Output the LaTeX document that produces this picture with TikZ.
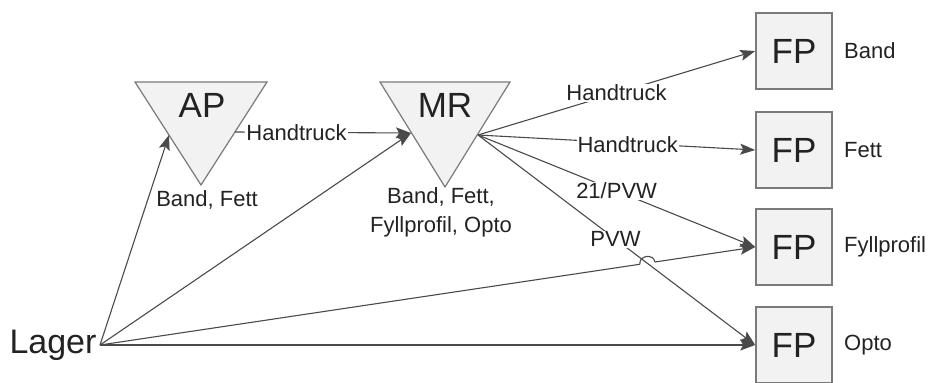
\documentclass[tikz,border=0pt]{standalone}
\usepackage{fontspec}
\setmainfont{Liberation Sans}
\usetikzlibrary{arrows.meta,calc}
\definecolor{linec}{HTML}{4A4A4A}
\definecolor{shapefill}{HTML}{F2F2F2}
\definecolor{shapeedge}{HTML}{7A7A7A}
\definecolor{textc}{HTML}{222222}
\tikzset{
  conn/.style={draw=linec, line width=1.1pt, -{Stealth[length=15pt,width=11pt,inset=3pt]}},
  plainline/.style={draw=linec, line width=1.1pt},
  tri/.style={draw=shapeedge, line width=1.2pt, fill=shapefill, line join=miter},
  bigtxt/.style={font=\fontsize{35}{40}\selectfont, text=textc, inner sep=0pt},
  lbl/.style={font=\fontsize{22}{29}\selectfont, text=textc, inner sep=1pt},
  onlbl/.style={lbl, fill=white, inner sep=1pt},
  fpbox/.style={draw=shapeedge, line width=1.6pt, fill=shapefill, minimum width=76pt, minimum height=76pt, inner sep=0pt, font=\fontsize{35}{40}\selectfont, text=textc},
}
\begin{document}
\begin{tikzpicture}[x=1pt,y=-1pt]
\useasboundingbox (0,0) rectangle (935,383);

% triangles
\draw[tri] (135,82) -- (267,82) -- (201,185) -- cycle;
\draw[tri] (380,82) -- (510,82) -- (445,187) -- cycle;
\node[bigtxt] (ap) at (202,105) {AP};
\node[bigtxt] (mr) at (445,105) {MR};
\node[lbl] (aplbl) at (207,200) {Band, Fett};
\node[lbl, align=center] (mrlbl) at (441,212) {Band, Fett,\\Fyllprofil, Opto};

% connection points on triangle edges
\coordinate (apin) at (169,135);
\coordinate (apout) at (235,132);
\coordinate (mrin) at (411,133);
\coordinate (mrout) at (478,135);

% FP boxes
\node[fpbox] (fp1) at (794,51) {FP};
\node[fpbox] (fp2) at (794,150) {FP};
\node[fpbox] (fp3) at (794,247) {FP};
\node[fpbox] (fp4) at (794,345) {FP};
\node[lbl, anchor=west] (l1) at (843,51) {Band};
\node[lbl, anchor=west] (l2) at (843,150) {Fett};
\node[lbl, anchor=west] (l3) at (843,247) {Fyllprofil};
\node[lbl, anchor=west] (l4) at (843,345) {Opto};

% Lager
\node[font=\fontsize{34}{40}\selectfont, text=textc, inner sep=0pt] (lager) at (53,345) {Lager};
\coordinate (ls) at (100,345);

% connectors
\draw[conn] (ls) -- (apin);
\draw[conn] (ls) -- (mrin);
\draw[conn] (ls) -- (fp4.west);
\draw[conn] (apout) -- node[onlbl, pos=0.35] {Handtruck} (mrin);
\draw[conn] (mrout) -- node[onlbl, pos=0.5] {Handtruck} (fp1.west);
\draw[conn] (mrout) -- node[onlbl, pos=0.54, yshift=-2pt] {Handtruck} (fp2.west);
\draw[conn] (mrout) -- node[onlbl, pos=0.5] {21/PVW} (fp3.west);
\draw[conn] (mrout) -- node[onlbl, pos=0.496] {PVW} (fp4.west);

% Lager -> Fyllprofil with a line jump over MR -> Opto
\coordinate (j1) at ($(ls)!0.824!(fp3.west)$);
\coordinate (j2) at ($(ls)!0.847!(fp3.west)$);
\draw[plainline] (ls) -- (j1);
\draw[plainline] (j1) to[bend left=90, looseness=1.5] (j2);
\draw[conn] (j2) -- (fp3.west);
\end{tikzpicture}
\end{document}
